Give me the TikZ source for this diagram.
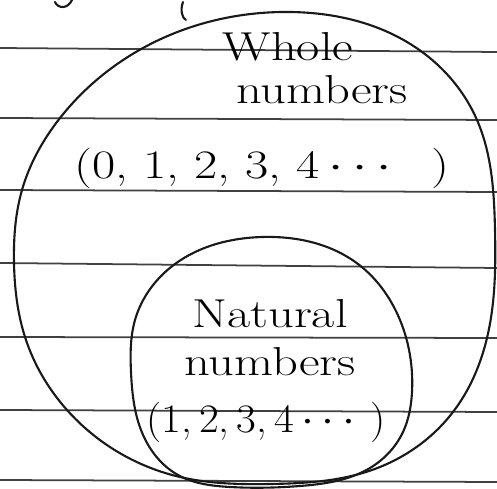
\documentclass[tikz,border=0pt]{standalone}
\usepackage{amssymb,amsmath}
\usepackage{tikz}
\usetikzlibrary{hobby}

\begin{document}
\begin{tikzpicture}[x=0.02cm,y=-0.02cm,use Hobby shortcut,
    rule/.style={draw=black!75,line width=1pt},
    pen/.style={draw=black!90,line width=1.2pt,line join=round,line cap=round},
    hand/.style={inner sep=0pt,font=\fontsize{23}{26}\selectfont,xscale=1.25,transform shape}]
\useasboundingbox (0,0) rectangle (497,489);
\fill[white] (0,0) rectangle (497,489);
\foreach \ya/\yb in {48/52,118/120,190/192,263/268,337/338,410/412,480/482}
  \draw[rule] (0,\ya) -- (497,\yb);
\draw[pen,closed=true] (290,12) .. (415,47) .. (477,120) .. (495,230) .. (487,338)
  .. (453,412) .. (372,470) .. (270,484) .. (180,477) .. (67,410) .. (25,337)
  .. (14,263) .. (22,190) .. (60,118) .. (143,48);
\draw[pen,closed=true] (262,237) .. (358,264) .. (400,320) .. (412,392) .. (403,432)
  .. (370,468) .. (300,486) .. (230,487) .. (178,475) .. (141,430) .. (131,372)
  .. (135,320) .. (175,264);
\draw[pen] (55,2) .. controls (58,9) and (68,9) .. (72,0);
\draw[pen] (183,2) .. controls (180,10) and (182,18) .. (186,20);
\node[hand] (whole) at (288,47) {Whole};
\node[hand] (wnums) at (322,90) {numbers};
\node[hand] (wset) at (262,168) {(0, 1, 2, 3, 4\,$\cdots$\ \ )};
\node[hand] (natural) at (270,314) {Natural};
\node[hand] (nnums) at (270,362) {numbers};
\node[hand,xscale=0.85] (nset) at (266,422) {(1,\,2,\,3,\,4\,$\cdots$\,)};
\end{tikzpicture}
\end{document}
